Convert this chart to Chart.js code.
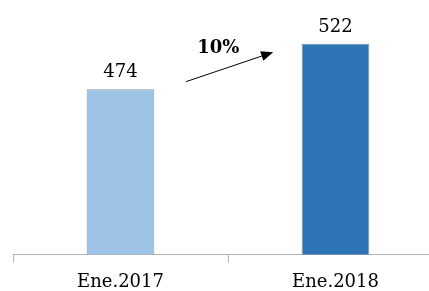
<!DOCTYPE html>
<html>
<head>
<meta charset="utf-8">
<script src="https://cdn.jsdelivr.net/npm/chart.js@4"></script>
<style>
    html, body { margin: 0; padding: 0; background: #fff; overflow: hidden; }
    #wrap { width: 443px; height: 302px; }
</style>
</head>
<body>
<div id="wrap"><canvas id="growthChart"></canvas></div>
<script>
let labels = ['Ene.2017', 'Ene.2018'];
let values = [474, 522];
let barColors = ['#9DC3E6', '#2E75B6'];
let growthText = '10%';
// arrow ends in (category index, value) units
let arrowFrom = [0.305, 482];
let arrowTo = [0.71, 513];
let growthTextAt = [0.455, 512];

let valueLabels = {
    id: 'valueLabels',
    afterDatasetsDraw(chart) {
        let ctx = chart.ctx;
        let meta = chart.getDatasetMeta(0);
        ctx.save();
        ctx.font = '18px "DejaVu Serif"';
        ctx.fillStyle = '#000';
        ctx.textAlign = 'center';
        ctx.textBaseline = 'alphabetic';
        meta.data.forEach(function (bar, i) {
            ctx.fillText(String(values[i]), bar.x, bar.y - 12);
        });

        let x = chart.scales.x;
        let y = chart.scales.y;
        let x1 = x.getPixelForValue(arrowFrom[0]), y1 = y.getPixelForValue(arrowFrom[1]);
        let x2 = x.getPixelForValue(arrowTo[0]), y2 = y.getPixelForValue(arrowTo[1]);
        let ang = Math.atan2(y2 - y1, x2 - x1);
        let head = 12, half = 5;
        ctx.strokeStyle = '#000';
        ctx.lineWidth = 1;
        ctx.beginPath();
        ctx.moveTo(x1, y1);
        ctx.lineTo(x2 - head * Math.cos(ang), y2 - head * Math.sin(ang));
        ctx.stroke();
        ctx.beginPath();
        ctx.moveTo(x2, y2);
        ctx.lineTo(x2 - head * Math.cos(ang) + half * Math.sin(ang), y2 - head * Math.sin(ang) - half * Math.cos(ang));
        ctx.lineTo(x2 - head * Math.cos(ang) - half * Math.sin(ang), y2 - head * Math.sin(ang) + half * Math.cos(ang));
        ctx.closePath();
        ctx.fillStyle = '#000';
        ctx.fill();

        ctx.font = 'bold 18px "DejaVu Serif"';
        ctx.fillText(growthText, x.getPixelForValue(growthTextAt[0]), y.getPixelForValue(growthTextAt[1]));
        ctx.restore();
    }
};

let ctx = document.getElementById('growthChart').getContext('2d');
let myChart = new Chart(ctx, {
    type: 'bar',
    data: {
        labels: labels,
        datasets: [{
            data: values,
            backgroundColor: barColors,
            borderColor: ['#8C9BA8', '#7F93A6'],
            borderWidth: 1,
            borderSkipped: 'bottom',
            categoryPercentage: 1,
            barPercentage: 0.315
        }]
    },
    options: {
        responsive: true,
        maintainAspectRatio: false,
        animation: false,
        layout: { padding: { left: 13, right: 0, top: 0, bottom: 0 } },
        plugins: {
            legend: { display: false },
            tooltip: { enabled: false }
        },
        scales: {
            x: {
                grid: {
                    drawOnChartArea: false,
                    drawTicks: true,
                    tickLength: 8,
                    color: '#B3B3B3'
                },
                border: { color: '#B3B3B3', width: 1 },
                ticks: {
                    color: '#000',
                    padding: 9,
                    font: { family: '"DejaVu Serif"', size: 18 }
                }
            },
            y: {
                display: false,
                min: 300,
                max: 568
            }
        }
    },
    plugins: [valueLabels]
});
</script>
</body>
</html>
